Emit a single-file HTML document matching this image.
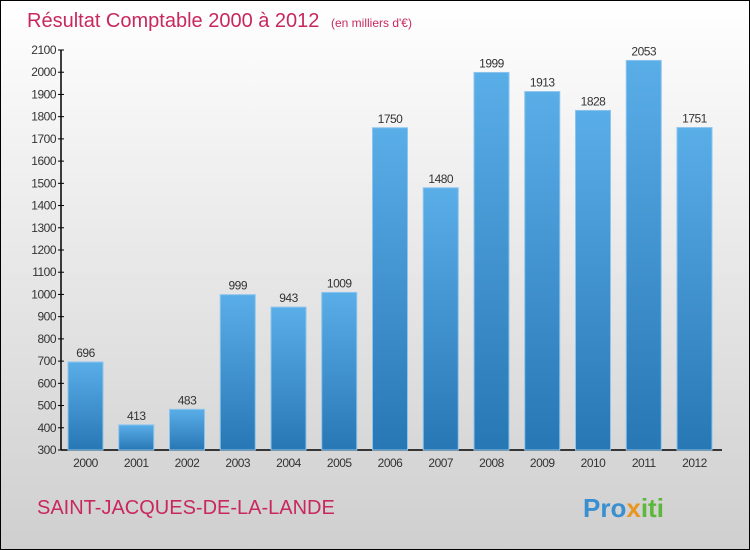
<!DOCTYPE html>
<html><head><meta charset="utf-8"><style>
body{margin:0}
#c{position:relative;width:748px;height:548px;border:1px solid #000;background:linear-gradient(#fff,#f0f0f0 30%,#cfcfcf);font-family:"Liberation Sans",sans-serif;overflow:hidden}
</style></head><body>
<div id="c">
<svg id="s" width="748" height="548" style="position:absolute;left:0;top:0">
<defs><linearGradient id="g" x1="0" y1="0" x2="0" y2="1"><stop offset="0" stop-color="#5aaee8"/><stop offset="1" stop-color="#2877b5"/></linearGradient></defs>
<text x="26" y="26" font-size="20" fill="#c8285f">Résultat Comptable 2000 à 2012 <tspan font-size="12" dx="6">(en milliers d'€)</tspan></text>
<text x="36" y="513" font-size="20" fill="#c8285f">SAINT-JACQUES-DE-LA-LANDE</text>
<text x="582" y="516" font-size="26" font-weight="bold" fill="#3a8fd0">Pro<tspan fill="#e8961e">x</tspan><tspan fill="#5cb83a">iti</tspan></text>
<g id="plot"></g>
</svg>
</div>
<script>
const years=["2000","2001","2002","2003","2004","2005","2006","2007","2008","2009","2010","2011","2012"];
const values=[696,413,483,999,943,1009,1750,1480,1999,1913,1828,2053,1751];
const yTicks=[300,400,500,600,700,800,900,1000,1100,1200,1300,1400,1500,1600,1700,1800,1900,2000,2100];
const NS="http://www.w3.org/2000/svg";
const g=document.getElementById('plot');
const y0=449,yMin=300,yMax=2100,yTop=49;
const y=v=>y0-(v-yMin)/(yMax-yMin)*(y0-yTop);
const x=i=>84.5+i*50.75;
function mk(t,a){const e=document.createElementNS(NS,t);for(const k in a)e.setAttribute(k,a[k]);g.appendChild(e);return e;}
let ax=mk('line',{x1:60,y1:yTop,x2:60,y2:y0,stroke:'#000','stroke-width':1.5});


let bx=mk('line',{x1:60,y1:y0,x2:721,y2:y0,stroke:'#000','stroke-width':1.5});


yTicks.forEach(v=>{
 const t=mk('line',{x1:57,x2:63,y1:y(v),y2:y(v),stroke:'#000'});
 
 
 const l=mk('text',{x:55,y:y(v)+4,'font-size':12,'text-anchor':'end',fill:'#333','letter-spacing':'-0.5'});
 l.textContent=v;
 
 
});
years.forEach((yr,i)=>{
 const v=values[i];
 const r=mk('rect',{x:x(i)-17.5,y:y(v),width:35,height:y0-y(v),fill:'url(#g)',stroke:'#8cc4ee','stroke-width':1});
 
 
 const vl=mk('text',{x:x(i),y:y(v)-5,'font-size':12,'text-anchor':'middle',fill:'#333','letter-spacing':'-0.5'});
 vl.textContent=v;
 
 
 const xl=mk('text',{x:x(i),y:466,'font-size':12,'text-anchor':'middle',fill:'#333','letter-spacing':'-0.5'});
 xl.textContent=yr;
 
 
});
</script>
</body></html>
